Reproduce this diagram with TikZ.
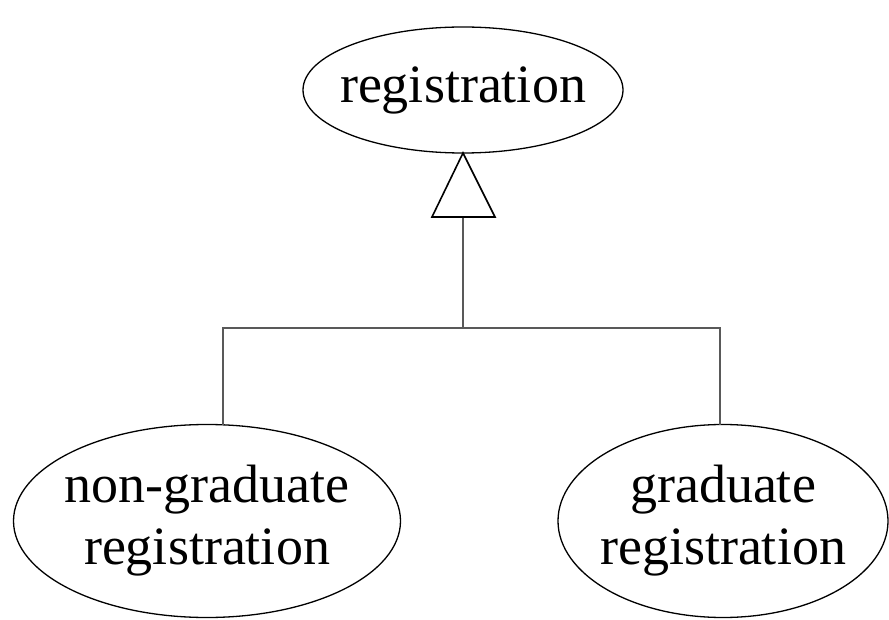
\documentclass[tikz,border=0pt]{standalone}
\usepackage{fontspec}
\setmainfont{Liberation Serif}
\usetikzlibrary{shapes.geometric}
\begin{document}
\begin{tikzpicture}[x=1pt,y=-1pt,
  ent/.style={draw=black, line width=1.3pt, ellipse, inner sep=0pt, outer sep=0pt},
  lbl/.style={inner sep=0pt, align=center, font=\fontsize{54}{62}\selectfont},
  conn/.style={draw=black!65, line width=2pt},
  gen/.style={draw=black, line width=1.6pt, fill=white, line join=miter}]
\useasboundingbox (0,0) rectangle (889,620);
\node[ent, minimum width=320pt, minimum height=126pt] (reg) at (463,90) {};
\node[ent, minimum width=387pt, minimum height=193pt] (ng) at (207,521) {};
\node[ent, minimum width=330pt, minimum height=193pt] (gr) at (723,521) {};
\node[lbl] (regt) at (reg) {registration};
\node[lbl] (ngt) at (ng) {non-graduate\\registration};
\node[lbl] (grt) at (gr) {graduate\\registration};
\coordinate (tb) at (463,217);
\coordinate (tl) at (432,217);
\coordinate (tr) at (495,217);
\coordinate (j) at (463,328);
\coordinate (jl) at (223,328);
\coordinate (jr) at (720,328);
\draw[conn] (tb) -- (j);
\draw[conn] (ng.north -| jl) -- (jl) -- (jr) -- (gr.north -| jr);
\draw[gen] (reg.south) -- (tl) -- (tr) -- cycle;
\end{tikzpicture}
\end{document}
